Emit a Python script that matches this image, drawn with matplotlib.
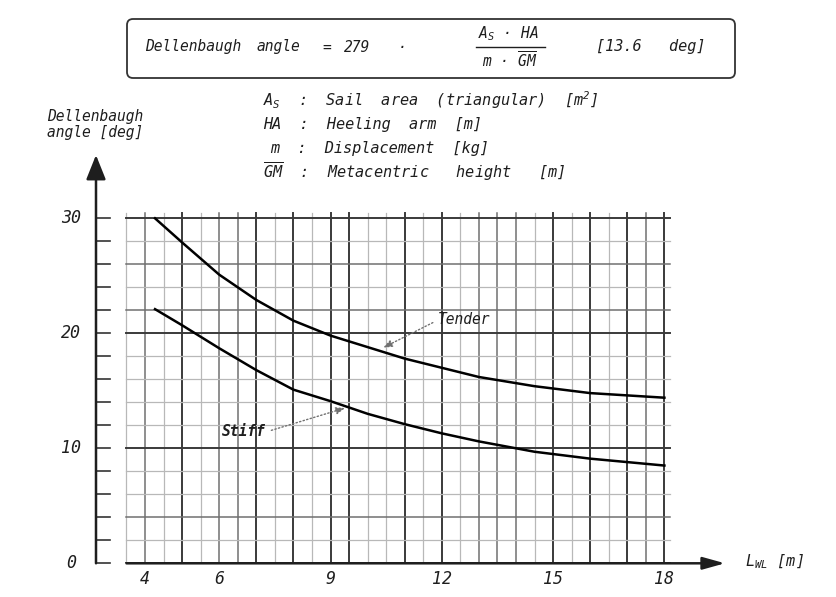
"""
Dellenbaugh angle versus waterline length, tender and stiff boats.
Redrawn from a scanned design chart (graph paper look).
"""
import matplotlib.pyplot as plt
import matplotlib.patches as mpatches
import numpy as np

# technical-lettering look: monospaced oblique
plt.rcParams['font.family'] = ['DejaVu Sans Mono']
plt.rcParams['font.style'] = 'italic'
plt.rcParams['mathtext.fontset'] = 'custom'
plt.rcParams['mathtext.rm'] = 'DejaVu Sans Mono'
plt.rcParams['mathtext.it'] = 'DejaVu Sans Mono:italic'
plt.rcParams['mathtext.default'] = 'it'

# curves: L_WL [m] -> Dellenbaugh angle [deg]
tender_lwl = [4.27, 5, 6, 7, 8, 9, 10, 11, 12, 13, 14.5, 16, 17, 18]
tender_deg = [30.0, 27.9, 25.1, 22.9, 21.1, 19.8, 18.8, 17.8, 17.0, 16.2, 15.4, 14.8, 14.6, 14.4]
stiff_lwl = [4.27, 5, 6, 7, 8, 9, 10, 11, 12, 13, 14.5, 16, 17, 18]
stiff_deg = [22.1, 20.7, 18.7, 16.8, 15.1, 14.1, 13.0, 12.1, 11.3, 10.6, 9.7, 9.1, 8.8, 8.5]

xtick_vals = [4, 6, 9, 12, 15, 18]
ytick_vals = [0, 10, 20, 30]

# pixel layout of the scanned sheet
W, H = 837, 597
PX4, PX_PER_M = 145, 37.1        # pixel of L=4 m, pixels per metre
PY0, PY_PER_DEG = 563.3, 11.5    # pixel of 0 deg, pixels per degree
AX_L, AX_R, AX_T = 96, 725, 155  # y-axis line, x arrow tip, y arrow tip

X0 = 4 + (AX_L - PX4) / PX_PER_M
X1 = 4 + (AX_R - PX4) / PX_PER_M
YT = (PY0 - AX_T) / PY_PER_DEG
XTICK_END = 4 + (110 - PX4) / PX_PER_M

INK = '#1e1e1e'
heavy_v = [5, 7, 8, 9, 9.5, 11, 12, 15, 16, 17, 18]
medium_v = [4, 6, 6.5, 13, 13.5, 14, 17.5]
heavy_h = [0, 10, 20, 30]
medium_h = [4, 22, 26]


def line_style(v, heavy, medium):
    if any(abs(v - h) < 1e-6 for h in heavy):
        return '#3a3a3a', 1.4
    if any(abs(v - m) < 1e-6 for m in medium):
        return '#707070', 1.1
    return '#b8b8b8', 0.9


fig = plt.figure(figsize=(W / 100, H / 100), dpi=100)
ax = fig.add_axes([AX_L / W, (H - PY0) / H, (AX_R - AX_L) / W, (PY0 - AX_T) / H])
ax.set_xlim(X0, X1)
ax.set_ylim(0, YT)
ax.axis('off')

# graph paper
for v in np.arange(3.5, 18.01, 0.5):
    c, lw = line_style(v, heavy_v, medium_v)
    ax.plot([v, v], [0, 30.5], color=c, lw=lw, zorder=1)
for h in range(0, 31, 2):
    c, lw = line_style(h, heavy_h, medium_h)
    ax.plot([3.5, 18.15], [h, h], color=c, lw=lw, zorder=1)

# axes with arrows
ax.annotate('', xy=(X0, YT), xytext=(X0, 0), annotation_clip=False,
            arrowprops=dict(arrowstyle='-|>,head_length=1.0,head_width=0.4', color=INK,
                            lw=1.8, mutation_scale=15, shrinkA=0, shrinkB=0))
ax.annotate('', xy=(X1, 0), xytext=(3.5, 0), annotation_clip=False,
            arrowprops=dict(arrowstyle='-|>,head_length=0.9,head_width=0.25', color=INK,
                            lw=1.8, mutation_scale=15, shrinkA=0, shrinkB=0))
for v in range(0, 31, 2):
    ax.plot([X0, XTICK_END], [v, v], color='#333333', lw=1.2, clip_on=False)

for v in ytick_vals:
    ax.text(2.0, v, str(v), ha='center', va='center', fontsize=12, color=INK)
for v in xtick_vals:
    ax.text(v, -1.4, str(v), ha='center', va='center', fontsize=12, color=INK)

# curves
ax.plot(tender_lwl, tender_deg, color='black', lw=1.8, zorder=3)
ax.plot(stiff_lwl, stiff_deg, color='black', lw=1.8, zorder=3)

leader = dict(arrowstyle='-|>,head_length=0.5,head_width=0.2', linestyle=':',
              color='#707070', lw=1.0, shrinkA=2, shrinkB=0)
ax.annotate('Tender', xy=(10.42, 18.75), xytext=(11.9, 21.16), ha='left', va='center',
            fontsize=10.5, color=INK, arrowprops=dict(relpos=(0, 0.5), **leader))
ax.annotate('Stiff', xy=(9.39, 13.5), xytext=(6.08, 11.42), ha='left', va='center',
            fontsize=10.5, color=INK, fontweight='bold',
            arrowprops=dict(relpos=(1, 0.5), **leader))

# sheet texts in pixel coordinates
ov = fig.add_axes([0, 0, 1, 1])
ov.set_xlim(0, W)
ov.set_ylim(H, 0)
ov.axis('off')

box = mpatches.FancyBboxPatch((127, 19), 608, 59, boxstyle='round,pad=0,rounding_size=6',
                              fc='none', ec='#333333', lw=1.3)
ov.add_patch(box)
fs = 10.5
ov.text(145, 47, 'Dellenbaugh', ha='left', va='center', fontsize=fs, color=INK)
ov.text(256, 47, 'angle', ha='left', va='center', fontsize=fs, color=INK)
ov.text(327, 47, '=', ha='center', va='center', fontsize=fs, color=INK)
ov.text(344, 47, '279', ha='left', va='center', fontsize=fs, color=INK)
ov.text(402, 47, '·', ha='center', va='center', fontsize=fs, color=INK)
ov.text(508, 34, r'$A_S$ · HA', ha='center', va='center', fontsize=10.5, color=INK)
ov.plot([476, 545], [47, 47], color=INK, lw=1.0)
ov.text(510, 61, r'm · $\overline{GM}$', ha='center', va='center', fontsize=10.5, color=INK)
ov.text(596, 47, '[13.6   deg]', ha='left', va='center', fontsize=11, color=INK)

fl = 11
ov.text(263, 100, r'$A_S$  :  Sail  area  (triangular)  [m$^{2}$]', ha='left', va='center',
        fontsize=fl, color=INK)
ov.text(263, 124, 'HA  :  Heeling  arm  [m]', ha='left', va='center', fontsize=fl, color=INK)
ov.text(270, 148, 'm  :  Displacement  [kg]', ha='left', va='center', fontsize=fl, color=INK)
ov.text(263, 172, r'$\overline{GM}$  :  Metacentric   height   [m]', ha='left', va='center',
        fontsize=fl, color=INK)

ov.text(95, 116, 'Dellenbaugh', ha='center', va='center', fontsize=fs, color=INK)
ov.text(95, 133, 'angle [deg]', ha='center', va='center', fontsize=fs, color=INK)
ov.text(745, 562, r'$L_{WL}$ [m]', ha='left', va='center', fontsize=11, color=INK)

fig.savefig('out.png', dpi=100)
